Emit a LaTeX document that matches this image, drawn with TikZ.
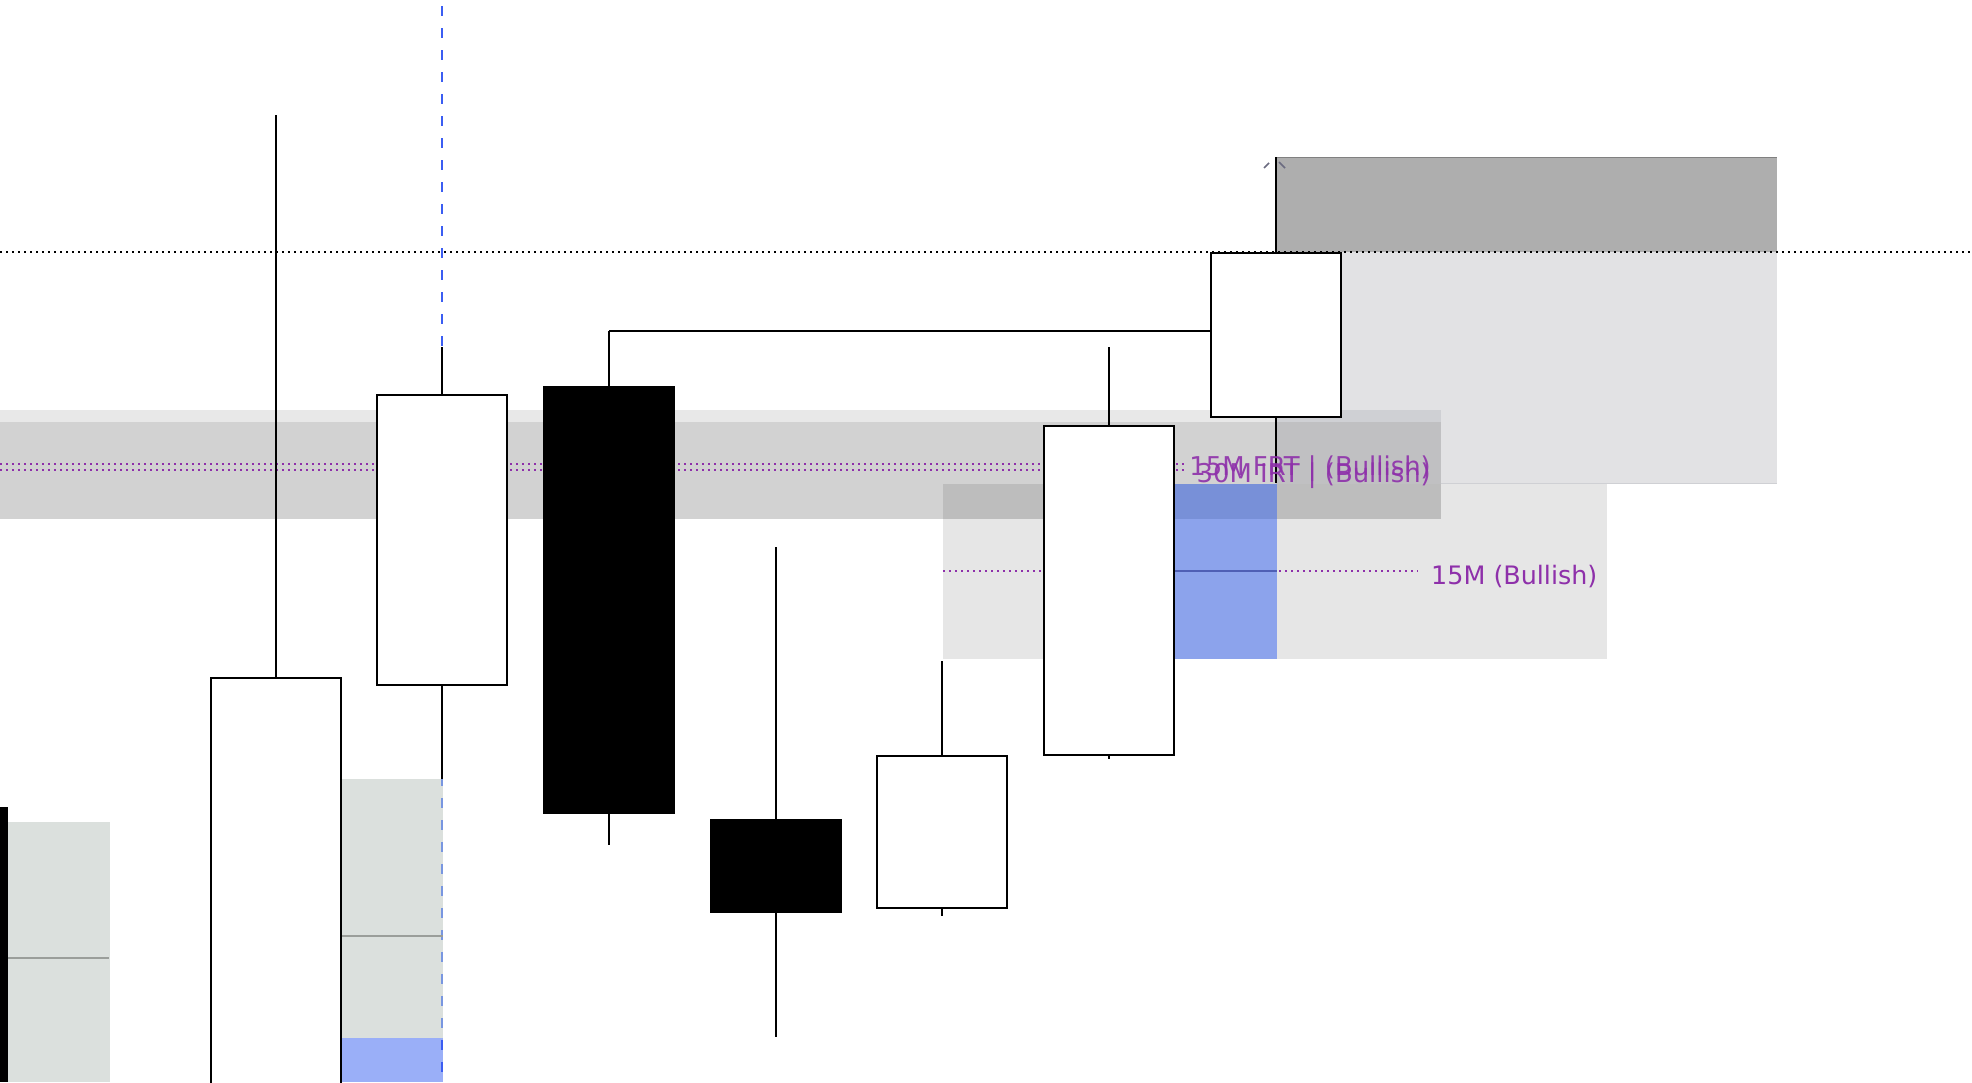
\documentclass[tikz,border=0pt]{standalone}
\usepackage{fontspec}
\newfontfamily\lblfont{DejaVu Sans}
\definecolor{bandlt}{HTML}{E8E8E8}
\definecolor{banddk}{HTML}{D2D2D2}
\definecolor{boxup}{HTML}{E2E2E4}
\definecolor{boxlow}{HTML}{E6E6E6}
\definecolor{boxdark}{HTML}{AEAEAE}
\definecolor{fvgblue}{HTML}{8CA3EC}
\definecolor{fvgblueb}{HTML}{7890D8}
\definecolor{ovA}{HTML}{CFD0D4}
\definecolor{ovB}{HTML}{C0C0C2}
\definecolor{ovC}{HTML}{BDBDBD}
\definecolor{sagebox}{HTML}{DBE0DD}
\definecolor{sageline}{HTML}{9A9E9A}
\definecolor{lowblue}{HTML}{9AAFF8}
\definecolor{dashblue}{HTML}{3B5DF2}
\definecolor{dashblueb}{HTML}{7896E0}
\definecolor{lblpurple}{HTML}{8E30AA}
\definecolor{markgray}{HTML}{6B6B80}
\definecolor{midblue}{HTML}{4F5FB5}
\tikzset{
  wick/.style={draw=black,line width=2pt},
  bullbody/.style={draw=black,fill=white,line width=2pt},
  bearbody/.style={fill=black},
  purpledots/.style={draw=lblpurple,line width=2pt,dash pattern=on 2pt off 4pt},
  blackdots/.style={draw=black,line width=2pt,dash pattern=on 2pt off 4pt},
  bluedash/.style={line width=2pt,dash pattern=on 10pt off 12pt},
  lbl/.style={text=lblpurple,inner sep=0pt,font=\lblfont\fontsize{25.4}{30}\selectfont},
  lblbig/.style={text=lblpurple,text opacity=0.9,inner sep=0pt,font=\lblfont\fontsize{25.9}{30}\selectfont}
}
\begin{document}
\begin{tikzpicture}[x=1pt,y=-1pt]
\useasboundingbox (0,0) rectangle (1972,1082);
\fill[white] (0,0) rectangle (1972,1082);
% right zones
\fill[boxup] (1276,252) rectangle (1777,483);
\draw[ovA,line width=1pt] (1276,483) -- (1777,483);
\fill[boxlow] (943,484) rectangle (1607,659);
\fill[fvgblue] (1174,484) rectangle (1277,659);
\fill[boxdark] (1276,157) rectangle (1777,252);
\draw[gray,line width=1pt] (1276,157.5) -- (1777,157.5);
% horizontal band
\fill[bandlt] (0,410) rectangle (1441,422);
\fill[ovA] (1276,410) rectangle (1441,422);
\fill[banddk] (0,422) rectangle (1441,519);
\fill[ovB] (1276,422) rectangle (1441,484);
\fill[ovC] (943,484) rectangle (1441,519);
\fill[fvgblueb] (1174,484) rectangle (1277,519);
% left zones
\fill[sagebox] (8,822) rectangle (110,1082);
\draw[sageline,line width=2pt] (8,958) -- (109,958);
\fill[sagebox] (341,779) rectangle (443,1082);
\fill[lowblue] (341,1038) rectangle (443,1082);
% blue dashed vertical
\begin{scope}
\clip (430,0) rectangle (455,779) (430,1038) rectangle (455,1082);
\draw[bluedash,dashblue] (442,6) -- (442,1082);
\end{scope}
\begin{scope}
\clip (430,779) rectangle (455,1038);
\draw[bluedash,dashblueb] (442,6) -- (442,1082);
\end{scope}
\draw[sageline,line width=2pt] (341,936) -- (443,936);
% dotted levels
\draw[purpledots] (0,464) -- (1187,464);
\draw[purpledots] (0,470) -- (1187,470);
\draw[purpledots] (943,571) -- (1418,571);
\draw[midblue,line width=1.5pt] (1174,571) -- (1277,571);
\draw[blackdots] (0,252) -- (1972,252);
% candles
\fill[bearbody] (-10,807) rectangle (8,1082);
\draw[wick] (276,115) -- (276,678);
\draw[bullbody] (211,678) rectangle (341,1090);
\draw[wick] (442,347) -- (442,779);
\draw[bullbody] (377,395) rectangle (507,685);
\draw[wick] (609,331) -- (609,845);
\fill[bearbody] (543,386) rectangle (675,814);
\draw[wick] (776,547) -- (776,1037);
\fill[bearbody] (710,819) rectangle (842,913);
\draw[wick] (942,661) -- (942,916);
\draw[bullbody] (877,756) rectangle (1007,908);
\draw[wick] (1109,347) -- (1109,759);
\draw[bullbody] (1044,426) rectangle (1174,755);
\draw[wick] (1276,157) -- (1276,483);
\draw[bullbody] (1211,253) rectangle (1341,417);
% swing line
\draw[wick] (609,331) -- (1211,331);
% small marks
\draw[markgray,line width=1.5pt] (1264,168) -- (1269,163);
\draw[markgray,line width=1.5pt] (1279,162) -- (1285,168);
% labels
\node[lblbig,anchor=base east] (frt) at (1431,475) {15M FRT | (Bullish)};
\node[lblbig,anchor=base east] (irt) at (1431,482) {30M IRT | (Bullish)};
\node[lbl,anchor=base west] (bull) at (1431,584) {15M (Bullish)};
\end{tikzpicture}
\end{document}
